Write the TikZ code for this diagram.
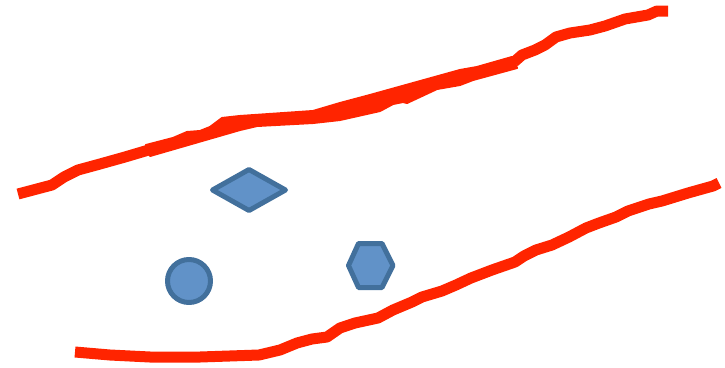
\documentclass[tikz,border=0pt]{standalone}
\usetikzlibrary{shapes.geometric}
\definecolor{redline}{RGB}{255,36,0}
\definecolor{shapefill}{RGB}{97,146,200}
\definecolor{shapedraw}{RGB}{66,112,156}
\begin{document}
\begin{tikzpicture}[x=1pt,y=-1pt,
  stroke/.style={draw=redline,line width=11pt,line join=round},
  band/.style={fill=redline,draw=redline,line width=2pt,line join=round},
  shp/.style={fill=shapefill,draw=shapedraw,line width=5pt,line join=round}]
\useasboundingbox (0,0) rectangle (725,367);
% top line
\draw[stroke] (18,194) -- (52,185) -- (64,177) -- (78,170) -- (100,164) -- (125,157) -- (152,149);
\fill[band] (146,145) -- (173,138) -- (187,132) -- (200,131) -- (210,127) -- (222,118) -- (240,116) -- (313,111) -- (340,103) -- (370,95) -- (460,70) -- (477,67) -- (512,57)
  -- (517,68) -- (473,80) -- (460,85) -- (437,89) -- (407,103) -- (403,102) -- (393,104) -- (380,111) -- (340,120) -- (313,123) -- (257,126) -- (240,130) -- (150,156) -- cycle;
\draw[stroke] (514,62) -- (522,55) -- (535,50) -- (545,45) -- (556,37) -- (570,33) -- (590,30) -- (605,26) -- (625,19) -- (648,15) -- (657,11) -- (668,11);
% bottom line
\draw[stroke] (75,352) -- (110,355) -- (150,357) -- (200,357) -- (259,355) -- (280,350) -- (297,343) -- (312,339) -- (327,337) -- (340,328) -- (355,323) -- (378,318) -- (393,310) -- (412,302) -- (422,297) -- (442,291) -- (456,285) -- (471,278) -- (492,270) -- (515,262) -- (524,256) -- (536,250) -- (552,245) -- (569,237) -- (586,228) -- (599,223) -- (616,217) -- (628,211) -- (649,204) -- (662,201) -- (688,193) -- (713,186) -- (719,183);
% shapes
\draw[shp] (212.5,190) -- (249,169.5) -- (285.5,190) -- (249,210.5) -- cycle;
\draw[shp] (189,281) circle[radius=21.5];
\draw[shp] (348.5,265.5) -- (358.5,243.5) -- (382,243.5) -- (393,265.5) -- (382,287.5) -- (358.5,287.5) -- cycle;
\end{tikzpicture}
\end{document}
